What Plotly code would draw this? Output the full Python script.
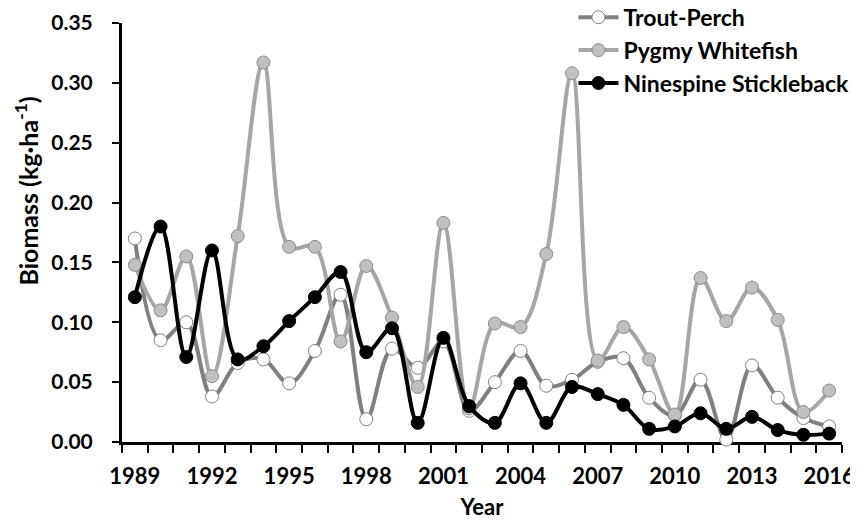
import plotly.graph_objects as go

years = list(range(1989, 2017))
trout_perch = [0.170, 0.085, 0.100, 0.038, 0.066, 0.069, 0.049, 0.076, 0.123, 0.019,
               0.078, 0.062, 0.084, 0.026, 0.050, 0.076, 0.047, 0.052, 0.067, 0.070,
               0.037, 0.022, 0.052, 0.002, 0.064, 0.037, 0.020, 0.013]
pygmy_whitefish = [0.148, 0.110, 0.155, 0.055, 0.172, 0.317, 0.163, 0.163, 0.084, 0.147,
                   0.104, 0.046, 0.183, 0.028, 0.099, 0.096, 0.157, 0.308, 0.068, 0.096,
                   0.069, 0.023, 0.137, 0.101, 0.129, 0.102, 0.025, 0.043]
ninespine = [0.121, 0.180, 0.071, 0.160, 0.069, 0.080, 0.101, 0.121, 0.142, 0.075,
             0.095, 0.016, 0.087, 0.030, 0.016, 0.049, 0.016, 0.046, 0.040, 0.031,
             0.011, 0.013, 0.024, 0.011, 0.021, 0.010, 0.006, 0.007]
label_years = [1989, 1992, 1995, 1998, 2001, 2004, 2007, 2010, 2013, 2016]

series = [
    ("Trout-Perch", trout_perch, "#808080", "white", "#808080"),
    ("Pygmy Whitefish", pygmy_whitefish, "#a6a6a6", "#c0c0c0", "#8c8c8c"),
    ("Ninespine Stickleback", ninespine, "black", "black", "black"),
]

fig = go.Figure()
for name, vals, line_col, fill, edge in series:
    fig.add_trace(
        go.Scatter(
            x=years,
            y=vals,
            name=name,
            mode="lines+markers",
            line=dict(color=line_col, width=4, shape="spline", smoothing=1),
            marker=dict(size=13, color=fill, line=dict(color=edge, width=1)),
            cliponaxis=False,
        )
    )

font = dict(family="Lato", size=21, color="black", weight="bold")

# y title sits above the middle of the axis, so it is an annotation
fig.add_annotation(
    text="Biomass (kg·ha<sup>-1</sup>)",
    xref="paper", yref="paper",
    x=-0.132, y=0.60,
    xanchor="center", yanchor="middle",
    textangle=-90,
    showarrow=False,
    font=dict(family="Lato", size=25, color="black", weight="bold"),
)

# the page body adds 8px on the left and top, so the figure is 8px smaller
fig.update_layout(
    width=850,
    height=513,
    margin=dict(l=114, r=16, t=15, b=79, autoexpand=False),
    paper_bgcolor="white",
    plot_bgcolor="white",
    font=font,
    showlegend=True,
    legend=dict(
        x=0.627,
        y=1.065,
        xanchor="left",
        yanchor="top",
        bgcolor="rgba(0,0,0,0)",
        font=dict(family="Lato", size=23, color="black", weight="bold"),
        itemwidth=40,
        tracegroupgap=0,
    ),
    xaxis=dict(
        range=[1988.5, 2016.5],
        tickvals=label_years,
        ticks="",
        tickfont=dict(family="Lato", size=22, color="black", weight="bold"),
        ticklabelstandoff=13,
        showline=True,
        linecolor="black",
        linewidth=3,
        showgrid=False,
        zeroline=False,
        layer="below traces",
        minor=dict(ticks="outside", tick0=1988.5, dtick=1, ticklen=8,
                   tickwidth=2, tickcolor="black", showgrid=False),
        title=dict(text="Year", font=dict(family="Lato", size=22, color="black", weight="bold"), standoff=12),
    ),
    yaxis=dict(
        range=[0, 0.35],
        tickvals=[0, 0.05, 0.10, 0.15, 0.20, 0.25, 0.30, 0.35],
        tickformat=".2f",
        ticks="outside",
        ticklen=7,
        tickwidth=2,
        tickcolor="black",
        ticklabelstandoff=15,
        showline=True,
        linecolor="black",
        linewidth=3,
        showgrid=False,
        zeroline=False,
    ),
)

fig.write_html("out.html")
